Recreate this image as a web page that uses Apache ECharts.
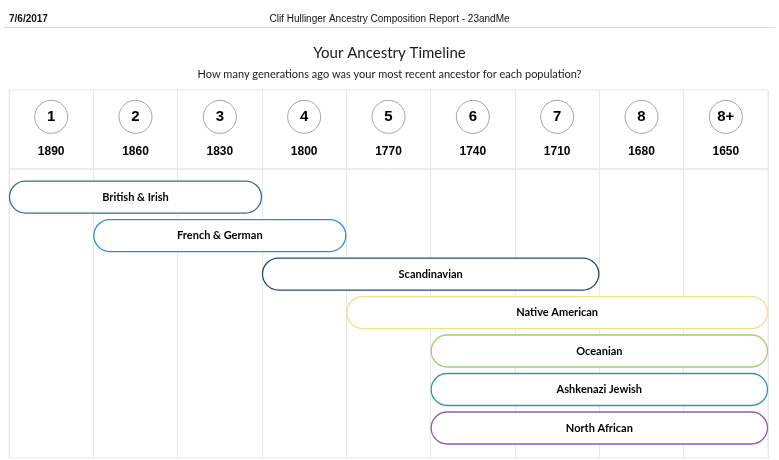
<!DOCTYPE html>
<html>
<head>
<meta charset="utf-8">
<script src="https://cdn.jsdelivr.net/npm/echarts@6/dist/echarts.min.js"></script>
<style>
  html, body { margin: 0; padding: 0; background: #fff; }
  #timeline { width: 779px; height: 460px; }
</style>
</head>
<body>
<div id="timeline"></div>
<script>
// header columns: generations ago and the matching year
var generations = ['1', '2', '3', '4', '5', '6', '7', '8', '8+'];
var years = ['1890', '1860', '1830', '1800', '1770', '1740', '1710', '1680', '1650'];

// populations, with the generation span each bar covers (column edges)
var populations = ['British & Irish', 'French & German', 'Scandinavian', 'Native American', 'Oceanian', 'Ashkenazi Jewish', 'North African'];
var spanStart = [0, 1, 3, 4, 5, 5, 5];
var spanEnd = [3, 4, 7, 9, 9, 9, 9];
var barColors = ['#3b6c9e', '#2c8ae8', '#284a6e', '#f5dc86', '#9fd170', '#2e9c9c', '#8e5db8'];

var myChart = echarts.init(document.getElementById('timeline'));

var lineColor = '#e8e8e8';
var barFont = 'Lato, "Open Sans", sans-serif';

var option = {
  animation: false,
  backgroundColor: '#fff',
  title: [
    {
      text: '7/6/2017', left: 4, top: 9,
      textStyle: { fontSize: 10, fontWeight: 'bold', color: '#111', fontFamily: '"Liberation Sans Narrow", "Liberation Sans", Arial, sans-serif' }
    },
    {
      text: 'Clif Hullinger Ancestry Composition Report - 23andMe', left: 'center', top: 9,
      textStyle: { fontSize: 10, fontWeight: 'normal', color: '#111', fontFamily: '"Liberation Sans Narrow", "Liberation Sans", Arial, sans-serif' }
    },
    {
      text: 'Your Ancestry Timeline', left: 'center', top: 41,
      textStyle: { fontSize: 15, fontWeight: 'normal', color: '#1a1a1a', fontFamily: barFont }
    },
    {
      text: 'How many generations ago was your most recent ancestor for each population?', left: 'center', top: 64,
      textStyle: { fontSize: 11, fontWeight: 'normal', color: '#1a1a1a', fontFamily: barFont }
    }
  ],
  graphic: [
    { type: 'line', shape: { x1: 4, y1: 27.5, x2: 775, y2: 27.5 }, style: { stroke: '#d9d9d9', lineWidth: 1 } }
  ],
  grid: [
    { left: 9, right: 11, top: 90, height: 79, show: true, borderColor: lineColor, borderWidth: 1 },
    { left: 9, right: 11, top: 169, bottom: 2, show: true, borderColor: lineColor, borderWidth: 1 }
  ],
  xAxis: [
    {
      gridIndex: 0, type: 'category', data: generations, boundaryGap: true,
      axisLine: { show: false }, axisTick: { show: false }, axisLabel: { show: false },
      splitLine: { show: true, lineStyle: { color: lineColor } }
    },
    {
      gridIndex: 1, type: 'value', min: 0, max: 9, interval: 1,
      axisLine: { show: false }, axisTick: { show: false }, axisLabel: { show: false },
      splitLine: { show: true, lineStyle: { color: lineColor } }
    }
  ],
  yAxis: [
    { gridIndex: 0, type: 'value', min: 0, max: 1, show: false, splitLine: { show: false } },
    { gridIndex: 1, type: 'value', min: -0.73, max: 6.78, inverse: true, show: false, splitLine: { show: false } }
  ],
  series: [
    {
      name: 'generation',
      type: 'scatter',
      xAxisIndex: 0, yAxisIndex: 0,
      symbol: 'circle', symbolSize: 33,
      itemStyle: { color: '#fff', borderColor: '#a6a6a6', borderWidth: 1, opacity: 1 },
      label: {
        show: true, position: 'inside',
        formatter: function (p) { return generations[p.dataIndex]; },
        fontSize: 15, fontWeight: 'bold', color: '#000',
        fontFamily: '"Liberation Sans", Arial, sans-serif'
      },
      data: generations.map(function (g) { return [g, 0.66]; })
    },
    {
      name: 'year',
      type: 'scatter',
      xAxisIndex: 0, yAxisIndex: 0,
      symbolSize: 0,
      itemStyle: { opacity: 1 },
      label: {
        show: true, position: 'inside',
        formatter: function (p) { return years[p.dataIndex]; },
        fontSize: 12, fontWeight: 'bold', color: '#000',
        fontFamily: '"Liberation Sans", Arial, sans-serif'
      },
      data: generations.map(function (g) { return [g, 0.215]; })
    },
    {
      name: 'populations',
      type: 'custom',
      xAxisIndex: 1, yAxisIndex: 1,
      renderItem: function (params, api) {
        var a = api.coord([api.value(0), api.value(2)]);
        var b = api.coord([api.value(1), api.value(2)]);
        var h = 32;
        var i = params.dataIndex;
        return {
          type: 'group',
          children: [
            {
              type: 'rect',
              shape: { x: a[0] + 0.5, y: a[1] - h / 2, width: b[0] - a[0] - 1, height: h, r: h / 2 },
              style: { fill: '#fff', stroke: barColors[i], lineWidth: 1.3 }
            },
            {
              type: 'text',
              style: {
                x: (a[0] + b[0]) / 2, y: a[1],
                text: populations[i],
                textAlign: 'center', textVerticalAlign: 'middle',
                font: 'bold 11px ' + barFont, fill: '#000'
              }
            }
          ]
        };
      },
      data: populations.map(function (p, i) { return [spanStart[i], spanEnd[i], i]; })
    }
  ]
};

myChart.setOption(option);
window.addEventListener('resize', function () {
  myChart.resize();
});
</script>
</body>
</html>
